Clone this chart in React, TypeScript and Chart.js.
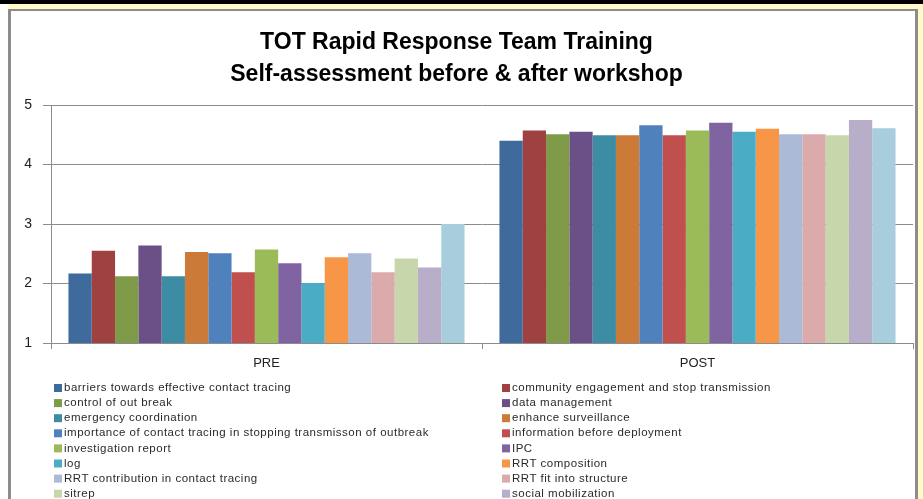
import React, { useEffect, useRef } from "react";
import { Chart, registerables } from "chart.js";
Chart.register(...registerables);

const categories = ["PRE", "POST"];

const seriesNames = [
  "barriers towards effective contact tracing",
  "community engagement and stop transmission",
  "control of out break",
  "data management",
  "emergency coordination",
  "enhance surveillance",
  "importance of contact tracing in stopping transmisson of outbreak",
  "information before deployment",
  "investigation report",
  "IPC",
  "log",
  "RRT composition",
  "RRT contribution in contact tracing",
  "RRT fit into structure",
  "sitrep",
  "social mobilization",
  "team work",
];

const preValues = [2.17, 2.55, 2.12, 2.64, 2.12, 2.53, 2.51, 2.19, 2.57, 2.34, 2.01, 2.44, 2.51, 2.19, 2.42, 2.27, 3.0];
const postValues = [4.4, 4.57, 4.51, 4.55, 4.49, 4.49, 4.66, 4.49, 4.57, 4.7, 4.55, 4.6, 4.51, 4.51, 4.49, 4.75, 4.61];

const seriesColors = [
  "#3E6A9C",
  "#9E4140",
  "#7F9A48",
  "#6A5087",
  "#3C8CA3",
  "#CB7A37",
  "#4F81BD",
  "#C0504D",
  "#9BBB59",
  "#8064A2",
  "#4BACC6",
  "#F79646",
  "#AABAD7",
  "#DBAAAA",
  "#C7D6AB",
  "#B9AECA",
  "#A8CEDD",
];

const yTicks = [1, 2, 3, 4, 5];

const legendPlugin = {
  id: "twoColLegend",
  afterDraw(chart: any) {
    const { ctx, chartArea } = chart;
    ctx.save();
    ctx.font = '11.5px "Liberation Sans"';
    try {
      (ctx as any).letterSpacing = "0.5px";
    } catch (e) {}
    ctx.textBaseline = "middle";
    ctx.textAlign = "left";
    chart.data.datasets.forEach((ds: any, i: number) => {
      const col = i % 2;
      const row = Math.floor(i / 2);
      const x = chartArea.left + 3 + col * 448;
      const y = chartArea.bottom + 45 + row * 15.1;
      ctx.fillStyle = ds.backgroundColor;
      ctx.fillRect(x, y - 4, 8, 8);
      ctx.fillStyle = "#2a2a2a";
      ctx.fillText(ds.label, x + 10, y);
    });
    ctx.restore();
  },
};

export default function App() {
  const ref = useRef<HTMLCanvasElement>(null);
  useEffect(() => {
    const chart = new Chart(ref.current as HTMLCanvasElement, {
      type: "bar",
      data: {
        labels: categories,
        datasets: seriesNames.map((name, i) => ({
          label: name,
          data: [preValues[i], postValues[i]],
          backgroundColor: seriesColors[i],
          borderWidth: 0,
          categoryPercentage: 0.919,
          barPercentage: 1,
        })),
      },
      options: {
        animation: false,
        responsive: false,
        devicePixelRatio: 1,
        layout: { padding: { left: 0, right: 10, top: 0, bottom: 126 } },
        plugins: {
          legend: { display: false },
          tooltip: { enabled: false },
          title: {
            display: true,
            text: ["TOT Rapid Response Team Training", "Self-assessment before & after workshop"],
            color: "#000",
            font: { family: '"Liberation Sans"', size: 23, weight: "bold", lineHeight: 32 / 23 },
            padding: { top: 27, bottom: 14 },
          },
        },
        scales: {
          x: {
            grid: {
              display: true,
              drawOnChartArea: false,
              drawTicks: true,
              tickLength: 6,
              offset: true,
              color: "#8c8c8c",
            },
            border: { display: true, color: "#8c8c8c" },
            ticks: {
              color: "#222",
              font: { family: '"Liberation Sans"', size: 13 },
              padding: 7,
              maxRotation: 0,
            },
            afterFit(scale: any) {
              scale.height = 30;
            },
          },
          y: {
            min: 1,
            max: 5,
            afterBuildTicks(scale: any) {
              scale.ticks = yTicks.map((v) => ({ value: v }));
            },
            grid: {
              color: "#8c8c8c",
              drawTicks: true,
              tickLength: 8,
            },
            border: { display: true, color: "#8c8c8c" },
            ticks: {
              color: "#222",
              font: { family: '"Liberation Sans"', size: 14 },
              padding: 11,
            },
            afterFit(scale: any) {
              scale.width = 51;
            },
          },
        },
      },
      plugins: [legendPlugin],
    });
    return () => chart.destroy();
  }, []);

  return (
    <div
      style={{
        position: "fixed",
        left: 0,
        top: 0,
        width: 923,
        height: 499,
        overflow: "hidden",
        background: "#fff",
      }}
    >
      <div style={{ position: "absolute", left: 0, top: 0, width: 923, height: 4, background: "#000" }} />
      <div style={{ position: "absolute", left: 8, top: 4, width: 915, height: 520, background: "#fffbc8" }} />
      <div
        style={{
          position: "absolute",
          left: 8,
          top: 9,
          width: 910,
          height: 520,
          boxSizing: "border-box",
          borderLeft: "3px solid #8c8c8c",
          borderTop: "2px solid #8c8c8c",
          borderRight: "3px solid #8c8c8c",
          background: "#fff",
        }}
      />
      <canvas ref={ref} width={923} height={499} style={{ position: "absolute", left: 0, top: 0 }} />
    </div>
  );
}
